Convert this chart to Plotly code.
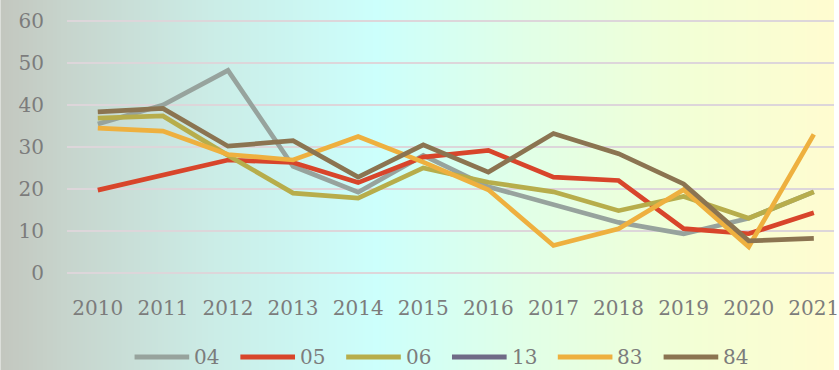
import base64
import struct
import zlib

import plotly.graph_objects as go

# ---- data -------------------------------------------------------------
years = [2010, 2011, 2012, 2013, 2014, 2015, 2016, 2017, 2018, 2019, 2020, 2021]
series_names = ["04", "05", "06", "13", "83", "84"]

s04 = [35.5, 40.0, 48.3, 25.4, 19.2, 28.0, 20.5, 16.3, 12.0, 9.3, 13.0, 19.3]
s05 = [19.7, 23.2, 26.9, 26.3, 21.5, 27.6, 29.2, 22.8, 22.0, 10.5, 9.3, 14.3]
s06 = [36.9, 37.4, 28.0, 19.0, 17.8, 25.0, 21.6, 19.3, 14.8, 18.2, 13.0, 19.3]
s13 = [None] * 12
s83 = [34.5, 33.8, 28.2, 26.9, 32.5, 26.4, 19.8, 6.5, 10.5, 19.8, 6.2, 33.0]
s84 = [38.4, 39.2, 30.2, 31.5, 22.8, 30.5, 24.0, 33.2, 28.4, 21.2, 7.6, 8.2]

series_values = [s04, s05, s06, s13, s83, s84]
series_colors = ["#97a39d", "#d8452b", "#b7ad4b", "#6f6a86", "#eeb03f", "#8b7451"]

y_ticks = [0, 10, 20, 30, 40, 50, 60]

# ---- geometry ---------------------------------------------------------
W, H = 839, 370
M_L, M_R, M_T, M_B = 67, 0, 15, 91
PLOT_W = W - M_L - M_R
PLOT_H = H - M_T - M_B

FONT = "DejaVu Serif"
TEXT_COLOR = "#7c7c7c"


def png_gradient(stops, width=420, height=4):
    """Horizontal colour ramp encoded as a tiny PNG data URI."""
    def color_at(t):
        for (t0, c0), (t1, c1) in zip(stops, stops[1:]):
            if t0 <= t <= t1:
                f = (t - t0) / (t1 - t0) if t1 > t0 else 0
                return tuple(round(a + (b - a) * f) for a, b in zip(c0, c1))
        return stops[-1][1]

    row = bytearray([0])
    for i in range(width):
        row.extend(color_at(i / (width - 1)))
    raw = bytes(row) * height

    def chunk(tag, data):
        c = struct.pack(">I", len(data)) + tag + data
        return c + struct.pack(">I", zlib.crc32(tag + data) & 0xFFFFFFFF)

    png = b"\x89PNG\r\n\x1a\n"
    png += chunk(b"IHDR", struct.pack(">IIBBBBB", width, height, 8, 2, 0, 0, 0))
    png += chunk(b"IDAT", zlib.compress(raw, 9))
    png += chunk(b"IEND", b"")
    return "data:image/png;base64," + base64.b64encode(png).decode()


bg_stops = [
    (0.00, (195, 199, 191)),
    (0.08, (199, 213, 205)),
    (0.25, (203, 236, 230)),
    (0.45, (204, 255, 252)),
    (0.62, (224, 255, 232)),
    (0.82, (242, 255, 214)),
    (1.00, (255, 252, 208)),
]

fig = go.Figure()

for name, vals, col in zip(series_names, series_values, series_colors):
    fig.add_trace(go.Scatter(
        x=years, y=vals, name=name, mode="lines",
        line=dict(color=col, width=4.7),
        showlegend=False,
    ))

# legend drawn as line samples plus labels under the plot
def px_x(p):
    return (p - M_L) / PLOT_W


def px_y(p):
    return (H - M_B - p) / PLOT_H


leg_start, leg_pitch, leg_len, leg_y = 135, 106.5, 55, 357
shapes = []
annotations = []
for i, (name, col) in enumerate(zip(series_names, series_colors)):
    x0 = leg_start + i * leg_pitch
    shapes.append(dict(
        type="line", xref="paper", yref="paper",
        x0=px_x(x0), x1=px_x(x0 + leg_len), y0=px_y(leg_y), y1=px_y(leg_y),
        line=dict(color=col, width=5),
    ))
    annotations.append(dict(
        text=name, xref="paper", yref="paper",
        x=px_x(x0 + leg_len + 3), y=px_y(leg_y), xanchor="left", yanchor="middle",
        showarrow=False, font=dict(family=FONT, size=20, color=TEXT_COLOR),
    ))

fig.update_layout(
    width=W, height=H,
    margin=dict(l=M_L, r=M_R, t=M_T, b=M_B, pad=0),
    paper_bgcolor="rgba(0,0,0,0)",
    plot_bgcolor="rgba(0,0,0,0)",
    font=dict(family=FONT, size=20, color=TEXT_COLOR),
    showlegend=False,
    shapes=shapes,
    annotations=annotations,
    images=[dict(
        source=png_gradient(bg_stops),
        xref="paper", yref="paper",
        x=-M_L / PLOT_W, y=1 + M_T / PLOT_H,
        sizex=W / PLOT_W, sizey=H / PLOT_H,
        sizing="stretch", layer="below", xanchor="left", yanchor="top",
    )],
    xaxis=dict(
        range=[2009.527, 2021.31],
        tickvals=years, ticktext=[str(y) for y in years],
        showgrid=False, zeroline=False, showline=False,
        ticks="", ticklabelstandoff=15, ticklabeloverflow="allow",
        tickfont=dict(family=FONT, size=20, color=TEXT_COLOR),
    ),
    yaxis=dict(
        range=[-1.5, 61.5],
        tickvals=y_ticks,
        showgrid=True, gridcolor="#ddd6da", gridwidth=2,
        zeroline=False, showline=False,
        ticks="", ticklabelstandoff=22,
        tickfont=dict(family=FONT, size=20, color=TEXT_COLOR),
    ),
)

fig.write_html("out.html")
